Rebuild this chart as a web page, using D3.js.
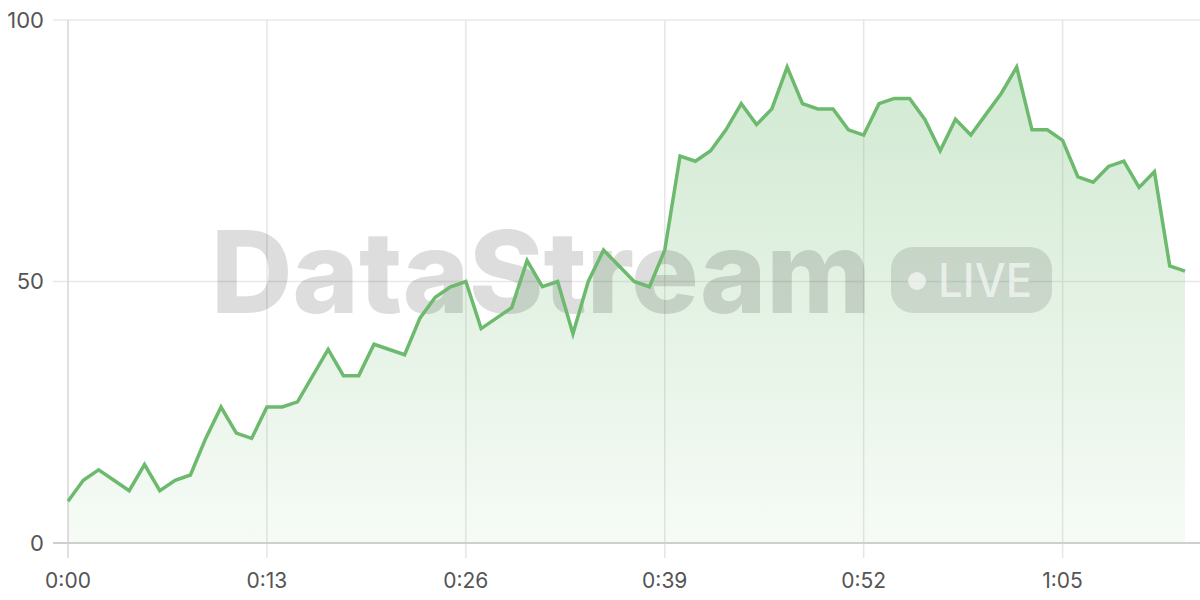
<!DOCTYPE html>
<html>
<head>
<meta charset="utf-8">
<script src="https://cdn.jsdelivr.net/npm/d3@7"></script>
<style>
  html, body { margin: 0; padding: 0; background: #fff; }
  svg { display: block; }
</style>
</head>
<body>
<svg id="chart" width="1200" height="600"></svg>
<script>
// Seconds elapsed (0..73) and measured values
const seconds = d3.range(0, 74);
const values = [
  8, 12, 14, 12, 10, 15, 10, 12, 13, 20,
  26, 21, 20, 26, 26, 27, 32, 37, 32, 32,
  38, 37, 36, 43, 47, 49, 50, 41, 43, 45,
  54, 49, 50, 40, 50, 56, 53, 50, 49, 56,
  74, 73, 75, 79, 84, 80, 83, 91, 84, 83,
  83, 79, 78, 84, 85, 85, 81, 75, 81, 78,
  82, 86, 91, 79, 79, 77, 70, 69, 72, 73,
  68, 71, 53, 52
];
const xTicks = [0, 13, 26, 39, 52, 65];
const yTicks = [0, 50, 100];
const watermarkText = "DataStream";
const badgeText = "LIVE";

(function () {
const svg = d3.select("#chart");
const mLeft = 68, mRight = 1200, mTop = 20, mBottom = 543;

const x = d3.scaleLinear().domain([0, 73]).range([mLeft, 1185]);
const y = d3.scaleLinear().domain([0, 100]).range([mBottom, mTop]);

const fmt = s => `${Math.floor(s / 60)}:${String(s % 60).padStart(2, "0")}`;

// gradient
const defs = svg.append("defs");
const grad = defs.append("linearGradient")
  .attr("id", "areaGrad").attr("gradientUnits", "userSpaceOnUse")
  .attr("x1", 0).attr("x2", 0).attr("y1", mTop).attr("y2", mBottom);
grad.append("stop").attr("offset", "0%").attr("stop-color", "#6dba6f").attr("stop-opacity", 0.34);
grad.append("stop").attr("offset", "100%").attr("stop-color", "#6dba6f").attr("stop-opacity", 0.06);

// horizontal grid
svg.append("g")
  .selectAll("line").data(yTicks.filter(d => d !== 0)).join("line")
  .attr("x1", 53).attr("x2", mRight)
  .attr("y1", d => y(d)).attr("y2", d => y(d))
  .attr("stroke", "#e8e8e8").attr("stroke-width", 1.5);

// vertical grid
svg.append("g")
  .selectAll("line").data(xTicks).join("line")
  .attr("x1", d => x(d)).attr("x2", d => x(d))
  .attr("y1", mTop).attr("y2", mBottom + 15)
  .attr("stroke", d => d === 0 ? "#d6d6d6" : "#e6e6e6").attr("stroke-width", 1.5);

// area
const data = seconds.map((s, i) => ({ s, v: values[i] }));
svg.append("path")
  .datum(data)
  .attr("fill", "url(#areaGrad)")
  .attr("d", d3.area().x(d => x(d.s)).y0(y(0)).y1(d => y(d.v)));

// x axis line
svg.append("line")
  .attr("x1", 53).attr("x2", mRight)
  .attr("y1", y(0)).attr("y2", y(0))
  .attr("stroke", "#cfcfcf").attr("stroke-width", 2);

// watermark
const wm = svg.append("g").attr("pointer-events", "none");
wm.append("text")
  .attr("x", 211).attr("y", 313)
  .attr("font-family", "Inter, 'Open Sans', sans-serif")
  .attr("font-weight", 800)
  .attr("font-size", 114)
  .attr("textLength", 660).attr("lengthAdjust", "spacingAndGlyphs")
  .attr("fill", "#000").attr("fill-opacity", 0.135)
  .text(watermarkText);
wm.append("rect")
  .attr("x", 891).attr("y", 247).attr("width", 161).attr("height", 66)
  .attr("rx", 22)
  .attr("fill", "#000").attr("fill-opacity", 0.11);
wm.append("circle")
  .attr("cx", 917).attr("cy", 281).attr("r", 9)
  .attr("fill", "#fff").attr("fill-opacity", 0.6);
wm.append("text")
  .attr("x", 938).attr("y", 297)
  .attr("font-family", "Inter, 'Open Sans', sans-serif")
  .attr("font-weight", 500)
  .attr("font-size", 46)
  .attr("textLength", 94).attr("lengthAdjust", "spacingAndGlyphs")
  .attr("fill", "#fff").attr("fill-opacity", 0.6)
  .text(badgeText);

// line
svg.append("path")
  .datum(data)
  .attr("fill", "none")
  .attr("stroke", "#6dba6f")
  .attr("stroke-width", 3.5)
  .attr("stroke-linejoin", "miter")
  .attr("d", d3.line().x(d => x(d.s)).y(d => y(d.v)));

// y labels
svg.append("g")
  .selectAll("text").data(yTicks).join("text")
  .attr("x", 44).attr("y", d => y(d))
  .attr("dy", "0.36em")
  .attr("text-anchor", "end")
  .attr("font-family", "Inter, sans-serif")
  .attr("font-size", 22)
  .attr("fill", "#555")
  .text(d => d);

// x labels
svg.append("g")
  .selectAll("text").data(xTicks).join("text")
  .attr("x", d => x(d)).attr("y", 588)
  .attr("text-anchor", "middle")
  .attr("font-family", "Inter, sans-serif")
  .attr("font-size", 21)
  .attr("fill", "#555")
  .text(d => fmt(d));
})();
</script>
</body>
</html>
